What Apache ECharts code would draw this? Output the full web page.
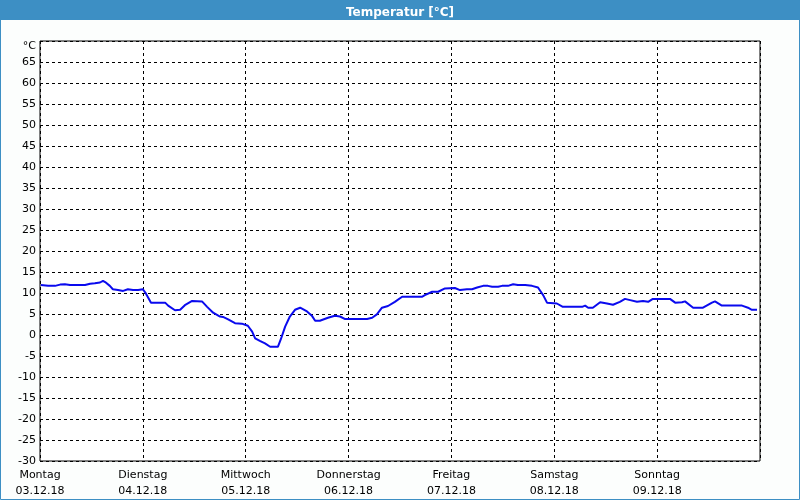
<!DOCTYPE html>
<html>
<head>
<meta charset="utf-8">
<script src="https://cdn.jsdelivr.net/npm/echarts@6/dist/echarts.min.js"></script>
<style>
html,body{margin:0;padding:0;background:#fcfefd;}
#chart{width:800px;height:500px;}
</style>
</head>
<body>
<div id="chart"></div>
<script>
// Hours since Monday 03.12.18 00:00
const hours = [0.2,1.9,3.5,4.7,5.8,7.0,9.3,10.5,11.7,12.8,14.0,14.7,15.2,16.3,17.0,18.2,19.4,20.5,21.7,22.9,24.0,24.7,25.9,28.0,29.2,29.9,31.5,32.7,33.8,35.5,37.8,39.0,40.4,42.0,42.7,43.9,45.5,47.1,48.5,49.5,50.2,51.3,52.5,53.7,55.5,56.2,57.2,58.3,59.5,60.7,62.3,63.5,64.2,65.3,67.2,68.8,70.0,71.2,76.3,77.5,78.6,79.8,81.2,82.8,84.5,89.1,89.8,91.5,92.9,94.5,96.8,98.0,99.6,100.8,102.0,103.4,104.5,105.5,106.9,107.8,109.2,110.4,111.5,113.2,114.8,116.2,117.4,118.3,120.6,122.0,126.5,127.2,127.9,129.0,130.7,132.3,133.7,135.3,136.5,137.7,139.3,140.7,141.9,143.0,147.0,148.2,149.8,150.5,152.4,154.7,156.8,157.5,159.1,163.8,165.2,166.1,167.3];
const temps = [11.9,11.7,11.7,12.0,12.1,11.9,11.9,11.9,12.2,12.3,12.5,12.9,12.6,11.7,10.9,10.7,10.5,10.9,10.7,10.7,10.9,9.9,7.7,7.7,7.7,7.0,5.9,6.0,7.1,8.1,8.0,6.7,5.3,4.4,4.3,3.7,2.8,2.7,2.2,0.8,-0.8,-1.4,-2.0,-2.8,-2.8,-1.0,2.0,4.4,6.0,6.5,5.6,4.5,3.4,3.4,4.1,4.6,4.4,3.8,3.8,4.1,4.9,6.5,6.9,7.9,9.1,9.1,9.5,10.3,10.3,11.1,11.2,10.7,10.9,10.9,11.3,11.7,11.7,11.5,11.5,11.7,11.7,12.1,11.9,11.9,11.7,11.3,9.5,7.7,7.5,6.7,6.7,7.0,6.5,6.5,7.8,7.5,7.2,7.9,8.6,8.3,7.9,8.1,7.9,8.6,8.6,7.7,7.8,8.0,6.5,6.5,7.7,8.0,7.0,7.0,6.5,6.0,6.0];
const dayNames = ['Montag','Dienstag','Mittwoch','Donnerstag','Freitag','Samstag','Sonntag'];
const dayDates = ['03.12.18','04.12.18','05.12.18','06.12.18','07.12.18','08.12.18','09.12.18'];
const yUnit = '°C';
const titleText = 'Temperatur [°C]';

const points = hours.map((h, i) => [h, temps[i]]);
const font = 'Tahoma, "DejaVu Sans", sans-serif';

const chart = echarts.init(document.getElementById('chart'), null, {renderer: 'canvas'});
chart.setOption({
  backgroundColor: '#fcfefd',
  animation: false,
  title: {
    text: titleText,
    left: 'center',
    top: 2,
    textStyle: {color: '#ffffff', fontSize: 12, fontWeight: 'bold', fontFamily: font}
  },
  graphic: [
    {type: 'rect', z: -10, shape: {x: 0, y: 0, width: 800, height: 20}, style: {fill: '#3d8fc4'}},
    {type: 'rect', z: -10, shape: {x: 0.5, y: 0.5, width: 799, height: 499}, style: {fill: null, stroke: '#3d8fc4', lineWidth: 1}}
  ],
  grid: {left: 40, right: 40, top: 41, bottom: 39, show: true, borderColor: '#000', borderWidth: 1, backgroundColor: '#ffffff'},
  xAxis: {
    type: 'value', min: 0, max: 168, interval: 24,
    axisLine: {show: false},
    axisTick: {show: false},
    axisLabel: {
      color: '#000', fontSize: 11, fontFamily: font, lineHeight: 16, margin: 6,
      formatter: v => { const i = Math.round(v / 24); return i < 7 ? dayNames[i] + '\n' + dayDates[i] : ''; }
    },
    splitLine: {show: true, lineStyle: {color: '#000', type: [3, 3], width: 1}}
  },
  yAxis: {
    type: 'value', min: -30, max: 70, interval: 5,
    axisLine: {show: false},
    axisTick: {show: false},
    axisLabel: {
      color: '#000', fontSize: 11, fontFamily: font, margin: 4,
      formatter: v => v === 70 ? '{u|' + yUnit + '}' : String(v),
      rich: {u: {color: '#000', fontSize: 11, fontFamily: font, padding: [11, 0, 0, 0]}}
    },
    splitLine: {show: true, lineStyle: {color: '#000', type: [3, 3], width: 1}}
  },
  series: [{
    type: 'line', data: points, showSymbol: false, smooth: false,
    lineStyle: {color: '#0a0aee', width: 2}
  }]
});
</script>
</body>
</html>
